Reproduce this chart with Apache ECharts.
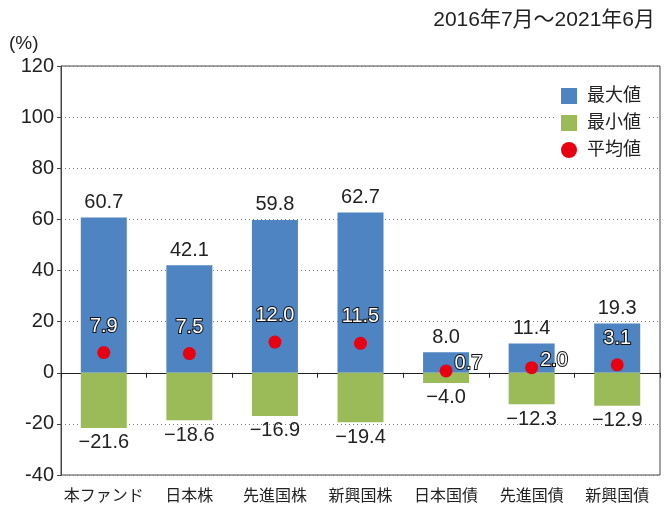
<!DOCTYPE html>
<html>
<head>
<meta charset="utf-8">
<script src="https://cdn.jsdelivr.net/npm/echarts@6/dist/echarts.min.js"></script>
<style>
    html, body { margin: 0; padding: 0; background: #fff; }
    #main { width: 671px; height: 509px; }
</style>
</head>
<body>
<div id="main"></div>
<script>
// データ
var categories = ["本ファンド", "日本株", "先進国株", "新興国株", "日本国債", "先進国債", "新興国債"];
var maxVals = [60.7, 42.1, 59.8, 62.7, 8.0, 11.4, 19.3];
var minVals = [-21.6, -18.6, -16.9, -19.4, -4.0, -12.3, -12.9];
var avgVals = [7.9, 7.5, 12.0, 11.5, 0.7, 2.0, 3.1];

var FONT = "'Liberation Sans', 'Noto Sans CJK JP', sans-serif";

function fmt(v) {
    // マイナスは長いダッシュで
    return v < 0 ? '\u2212' + Math.abs(v).toFixed(1) : v.toFixed(1);
}

(function () {
    var mycharts = echarts.init(document.getElementById('main'));

    // 平均値のラベル：棒が低いときは右側に出す
    var avgData = avgVals.map(function (v, i) {
        var small = maxVals[i] < 15;
        return {
            value: v,
            label: small ? { position: 'right', distance: 2, offset: [0, -7] }
                         : { position: 'top', distance: 10 }
        };
    });

    var option = {
        animation: false,
        textStyle: { fontFamily: FONT },
        grid: {
            left: 61,
            right: 11,
            top: 66,
            bottom: 34,
            show: true,
            borderColor: '#444',
            borderWidth: 1
        },
        graphic: [
            {
                type: 'text', right: 16, top: 10,
                style: { text: '2016年7月～2021年6月', fill: '#222', font: '21px ' + FONT }
            },
            {
                type: 'text', left: 9, top: 34,
                style: { text: '(%)', fill: '#222', font: '19px ' + FONT }
            }
        ],
        legend: {
            orient: 'vertical',
            left: 556,
            top: 83,
            backgroundColor: '#fff',
            padding: [4, 8, 4, 5],
            itemWidth: 16,
            itemHeight: 16,
            itemGap: 9,
            textStyle: { fontSize: 18, color: '#222', fontFamily: FONT, padding: [0, 0, 0, 5] },
            data: [
                { name: '最大値', icon: 'rect' },
                { name: '最小値', icon: 'rect' },
                { name: '平均値', icon: 'circle' }
            ]
        },
        xAxis: [
            {
                type: 'category',
                data: categories,
                position: 'bottom',
                axisLine: { show: false, onZero: false },
                axisTick: { show: false },
                axisLabel: { color: '#222', fontSize: 16, margin: 14, interval: 0 }
            },
            {
                type: 'category',
                data: categories,
                position: 'bottom',
                axisLine: { show: true, onZero: true, lineStyle: { color: '#222', width: 1 } },
                axisTick: { show: true, length: 5, inside: false, lineStyle: { color: '#222' } },
                axisLabel: { show: false }
            }
        ],
        yAxis: {
            type: 'value',
            min: -40,
            max: 120,
            interval: 20,
            axisLine: { show: true, lineStyle: { color: '#444' } },
            axisTick: { show: true, inside: false, length: 4, lineStyle: { color: '#444' } },
            axisLabel: { color: '#222', fontSize: 20, margin: 7 },
            splitLine: {
                lineStyle: { color: '#777', type: [1, 3], width: 1 }
            }
        },
        series: [
            {
                name: '最大値',
                type: 'bar',
                stack: 'range',
                barWidth: 46,
                data: maxVals,
                itemStyle: { color: '#4f84c2' },
                label: {
                    show: true,
                    position: 'top',
                    distance: 5,
                    color: '#222',
                    fontSize: 20,
                    formatter: function (p) { return fmt(p.value); }
                }
            },
            {
                name: '最小値',
                type: 'bar',
                stack: 'range',
                barWidth: 46,
                data: minVals,
                itemStyle: { color: '#9bbb59' },
                label: {
                    show: true,
                    position: 'bottom',
                    distance: 5,
                    color: '#222',
                    fontSize: 20,
                    formatter: function (p) { return fmt(p.value); }
                }
            },
            {
                name: '平均値',
                type: 'scatter',
                symbol: 'circle',
                symbolSize: 13,
                z: 5,
                data: avgData,
                itemStyle: { color: '#e60012', opacity: 1 },
                label: {
                    show: true,
                    color: '#ffffff',
                    opacity: 1,
                    fontSize: 20,
                    textBorderColor: '#111',
                    textBorderWidth: 2,
                    formatter: function (p) { return fmt(p.value); }
                }
            }
        ]
    };

    mycharts.setOption(option);
    window.addEventListener('resize', function () {
        mycharts.resize();
    });
})();
</script>
</body>
</html>
